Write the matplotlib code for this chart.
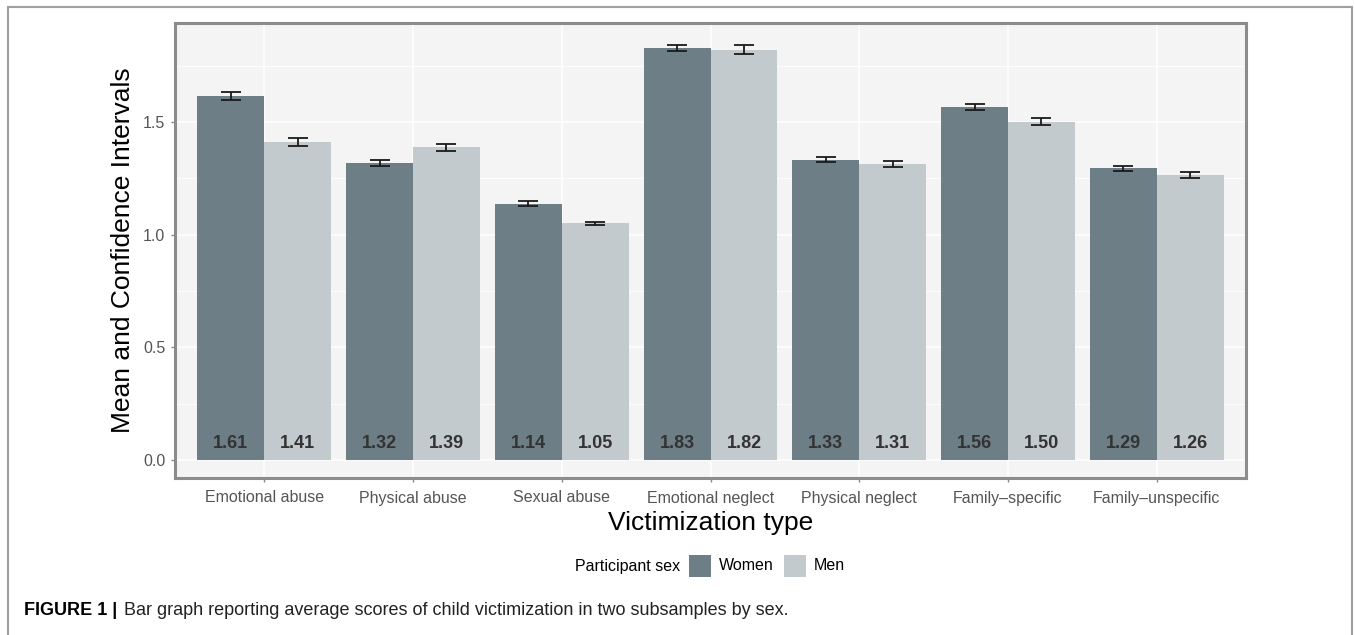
import matplotlib
matplotlib.use("Agg")
import matplotlib.pyplot as plt
from matplotlib.lines import Line2D
from matplotlib.patches import Rectangle
import numpy as np

plt.rcParams['font.family'] = ['Liberation Sans', 'DejaVu Sans']

# data
categories = ["Emotional abuse", "Physical abuse", "Sexual abuse", "Emotional neglect",
              "Physical neglect", "Family\u2013specific", "Family\u2013unspecific"]
women_mean = [1.614, 1.319, 1.137, 1.828, 1.332, 1.567, 1.295]
men_mean = [1.410, 1.387, 1.051, 1.820, 1.312, 1.501, 1.264]
women_ci = [0.018, 0.013, 0.011, 0.015, 0.011, 0.013, 0.011]
men_ci = [0.018, 0.016, 0.007, 0.020, 0.013, 0.015, 0.012]
women_lbl = ["1.61", "1.32", "1.14", "1.83", "1.33", "1.56", "1.29"]
men_lbl = ["1.41", "1.39", "1.05", "1.82", "1.31", "1.50", "1.26"]
yticks = [0.0, 0.5, 1.0, 1.5]
groups = ["Women", "Men"]

c_women = "#6d7e86"
c_men = "#c3cacd"

W, H = 1355, 635
fig = plt.figure(figsize=(W / 100, H / 100), dpi=100)
ax = fig.add_axes([175 / W, 1 - 478 / H, (1246 - 175) / W, (478 - 23) / H])

x = np.arange(len(categories))
w = 0.45
ax.set_facecolor("#f4f4f4")
ax.set_axisbelow(True)

ax.bar(x - w / 2, women_mean, w, color=c_women, zorder=2)
ax.bar(x + w / 2, men_mean, w, color=c_men, zorder=2)
ax.errorbar(x - w / 2, women_mean, yerr=women_ci, fmt="none", ecolor="#1a1a1a",
            elinewidth=1.3, capsize=7, capthick=1.3, zorder=3)
ax.errorbar(x + w / 2, men_mean, yerr=men_ci, fmt="none", ecolor="#1a1a1a",
            elinewidth=1.3, capsize=7, capthick=1.3, zorder=3)

for i in range(len(categories)):
    ax.text(x[i] - w / 2, 0.075, women_lbl[i], ha="center", va="center",
            fontsize=13, fontweight="bold", color="#333333", zorder=4)
    ax.text(x[i] + w / 2, 0.075, men_lbl[i], ha="center", va="center",
            fontsize=13, fontweight="bold", color="#333333", zorder=4)

ax.set_xlim(-0.6, len(categories) - 0.4)
ax.set_ylim(-0.08, 1.939)
ax.set_xticks(x)
ax.set_xticklabels(categories)
ax.set_yticks(yticks)
ax.set_yticklabels([f"{v:.1f}" for v in yticks])
ax.set_yticks([0.25, 0.75, 1.25, 1.75], minor=True)
ax.grid(True, which="major", color="white", linewidth=1.1)
ax.grid(True, which="minor", axis="y", color="white", linewidth=0.6)
ax.tick_params(axis="both", which="major", length=3, width=1, color="#888888",
               labelsize=11.5, labelcolor="#555555", pad=4)
ax.tick_params(axis="y", which="minor", length=0)
ax.tick_params(axis="x", pad=6)

for s in ax.spines.values():
    s.set_color("#8c8c8c")
    s.set_linewidth(2.2)

ax.set_ylabel("Mean and Confidence Intervals", fontsize=19, color="black", labelpad=6)
ax.set_xlabel("Victimization type", fontsize=19, color="black", labelpad=4)

# legend: title on the left, keys in a row
ly = 1 - 566 / H
fig.text(575 / W, ly, "Participant sex", fontsize=11.5, color="black", ha="left", va="center")
key_x = [689, 784]
for kx, col, name in zip(key_x, [c_women, c_men], groups):
    fig.add_artist(Rectangle((kx / W, 1 - 577 / H), 22 / W, 22 / H,
                             transform=fig.transFigure, facecolor=col, edgecolor="none"))
    fig.text((kx + 30) / W, ly, name, fontsize=11.5, color="black", ha="left", va="center")

# outer frame
fc = "#a0a0a0"
fig.add_artist(Line2D([8 / W, 8 / W], [0, 1 - 7 / H], transform=fig.transFigure, color=fc, lw=1.5))
fig.add_artist(Line2D([1352 / W, 1352 / W], [0, 1 - 7 / H], transform=fig.transFigure, color=fc, lw=1.5))
fig.add_artist(Line2D([8 / W, 1352 / W], [1 - 7 / H, 1 - 7 / H], transform=fig.transFigure, color=fc, lw=1.5))

fig.text(24 / W, 1 - 615 / H, "FIGURE 1 |", fontsize=13, fontweight="bold",
         color="black", va="baseline", ha="left")
fig.text(124 / W, 1 - 615 / H,
         "Bar graph reporting average scores of child victimization in two subsamples by sex.",
         fontsize=13, color="#222222", va="baseline", ha="left")

fig.savefig("out.png", dpi=100)
